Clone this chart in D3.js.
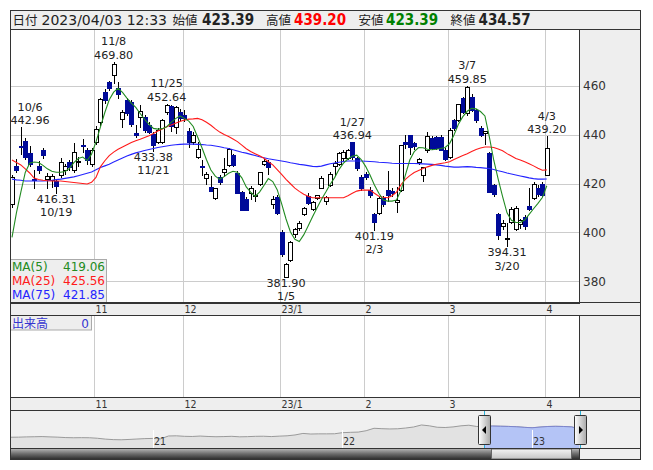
<!DOCTYPE html>
<html><head><meta charset="utf-8">
<script src="https://cdn.jsdelivr.net/npm/d3@7/dist/d3.min.js"></script>
<style>html,body{margin:0;padding:0;background:#fff;}svg{display:block;}</style>
</head><body>
<svg id="chart" width="653" height="470"></svg>
<script>
// ---------------- DATA ----------------
const dates = [
"2022-10-04","2022-10-05","2022-10-06","2022-10-07","2022-10-11","2022-10-12","2022-10-13","2022-10-14","2022-10-17","2022-10-18","2022-10-19","2022-10-20","2022-10-21","2022-10-24","2022-10-25","2022-10-26","2022-10-27","2022-10-28","2022-10-31",
"2022-11-01","2022-11-02","2022-11-04","2022-11-07","2022-11-08","2022-11-09","2022-11-10","2022-11-11","2022-11-14","2022-11-15","2022-11-16","2022-11-17","2022-11-18","2022-11-21","2022-11-22","2022-11-24","2022-11-25","2022-11-28","2022-11-29","2022-11-30",
"2022-12-01","2022-12-02","2022-12-05","2022-12-06","2022-12-07","2022-12-08","2022-12-09","2022-12-12","2022-12-13","2022-12-14","2022-12-15","2022-12-16","2022-12-19","2022-12-20","2022-12-21","2022-12-22","2022-12-23","2022-12-26","2022-12-27","2022-12-28","2022-12-29","2022-12-30",
"2023-01-04","2023-01-05","2023-01-06","2023-01-10","2023-01-11","2023-01-12","2023-01-13","2023-01-16","2023-01-17","2023-01-18","2023-01-19","2023-01-20","2023-01-23","2023-01-24","2023-01-25","2023-01-26","2023-01-27","2023-01-30","2023-01-31",
"2023-02-01","2023-02-02","2023-02-03","2023-02-06","2023-02-07","2023-02-08","2023-02-09","2023-02-10","2023-02-13","2023-02-14","2023-02-15","2023-02-16","2023-02-17","2023-02-20","2023-02-21","2023-02-22","2023-02-24","2023-02-27","2023-02-28",
"2023-03-01","2023-03-02","2023-03-03","2023-03-06","2023-03-07","2023-03-08","2023-03-09","2023-03-10","2023-03-13","2023-03-14","2023-03-15","2023-03-16","2023-03-17","2023-03-20","2023-03-22","2023-03-23","2023-03-24","2023-03-27","2023-03-28","2023-03-29","2023-03-30","2023-03-31",
"2023-04-03"];

const opens = [
411.5,427,435.5,437.5,432.5,421.8,427,433.7,421.8,421.5,421.2,423.5,425.5,428.7,425.5,428.6,435.8,433.7,427.8,
436.8,445.2,457.5,461.5,464.3,459.2,446.2,454,453.4,440.5,447.3,447.3,443.9,440.2,437,437,449.3,451.6,443.2,449.3,
448,441.4,436.8,431,427.2,422.4,418.7,414,422.8,424.8,427.6,431.6,424.2,416.4,413.7,416.2,415,420,427.8,428.7,411.5,414.6,
400.3,382,388.8,399.3,401.7,407.4,415,409.6,414,418.3,413,419.4,427.3,427.8,430.3,430.5,436.8,430.3,422.8,
423.8,417.3,407.4,407.8,414.2,417.3,417,412.3,417.3,436.8,439.8,436.4,428.7,423.5,433.7,438.7,439,439,433.7,
431,445.8,445.9,455,448.7,455.4,450,442.8,440.5,432.3,419.4,407.4,402.8,397.5,404.4,401.4,403.3,406.5,410.8,414.2,418,420,
423.39];
const highs = [
423.5,430,442.96,438.5,435.5,425.5,429,434.5,424.3,424,421.8,430.5,428,429.5,436.5,431,438,434.5,434.7,
443.3,455,458.5,462,469.8,461.4,450,455,454,443.8,451.9,448,445,441,442.5,446.5,452.64,452,451.5,450.5,
450,442.5,441,437,429.5,424.5,423,418.3,423.5,430.5,434.5,432,425,417,414.5,419,417.5,424.8,430,429.5,415,415.5,
401,387.5,396.5,402,404.5,410.5,416,413,415.5,423,415,424.5,429,433,433.5,434.2,436.94,431,423.5,
424.5,418.5,408,414.5,414.8,425,418,418.5,435.7,440,440,437,430.5,426.9,441,439.5,439.5,440,434.5,
442.5,446.5,452.5,455.5,459.85,456.5,450.5,443.5,441.5,433,420,408,405,404,410.5,411,405.5,407,418,420.5,419.5,420.5,
439.2];
const lows = [
410.5,424.5,432,430,427,418,424.3,430.5,418.3,418.5,416.31,422.5,424,425.5,424.5,427,433,428,427,
436,444,453,458,461,455,443.2,448,443.5,439,443,441,440.5,433.38,436.5,436.5,448.5,441.5,440.5,446,
445.5,435,436,430.5,423.5,420,416.9,413.5,420,423,427,427,416,409,409,413.5,413,419.5,427.5,423.8,410,407.5,
390.5,381.9,388.5,398,401,407,411.5,409,413.5,418,411.5,419,423.5,427.5,429.5,430,430,425.5,417.5,
422,414.5,401.19,407.5,411,413,415,408.5,417,434.5,432,434,428,421,433,434,434,433.5,429.5,
430.5,442,445.5,449,448,449.5,445,439.5,436,416.5,415,397.5,401.5,394.31,404,401,402,401.5,409,413.5,415,415,
423.39];
const closes = [
422.8,425.5,435.2,431,428,421.5,425.5,431.6,423.2,423,419,428.8,427,426.7,432.9,429.2,435.5,429.6,433.7,
442.2,454.5,454,459.2,469,456.5,449.3,448.6,444.2,440,449.7,441.8,441.1,435.7,441.8,446,452.2,443.5,451.3,446.6,
446.6,436.8,440,434,426.8,423.8,416.9,418.3,420.7,425.9,434,427.6,416.3,409.2,409.2,418.3,415.2,424.8,429.2,426.9,413.7,407.8,
391.1,387.1,396.2,401.4,403.7,409.9,411.9,412.6,415.3,422.1,414.6,423.8,428.2,432.3,433,433.6,430.9,426.2,418.3,
422.8,415.3,404.4,414,411.5,415.3,416,413.3,435.7,436,435,435.4,430,426.9,439.5,434.4,434.6,433.7,430,
441.8,442.5,452.3,449.3,459.5,450,445.9,440,441.4,416.6,415.6,399,404,397.8,409.6,409.9,405.1,402.8,409.5,420,415.6,415.3,
434.57];

const ma5 = [
398,408,416.5,424.5,428.3,428.8,428.6,427.4,426,425,
424.6,424.6,424.9,426.2,428.5,430.2,430.8,429.4,432,437,
443,449,454.2,457.3,458.9,457.2,454.9,452.8,451.1,448.6,
446.2,444.2,442.5,442.2,442.4,443.2,445,446.5,447.6,446.6,
445.5,443.3,439,434.5,429.7,425.5,423,421.7,422.8,424.2,
425,424.6,422.3,418.6,416.5,414.7,416.5,419.2,422,420.8,
417.5,411.8,405.5,400.2,397.2,396.3,399,402.6,406.4,410,
413.5,416.5,419.7,422.4,425.8,428.3,430,431.1,431.6,429.8,
427,423.5,419.4,416,413.3,412.8,412.8,413.3,417.2,423.4,
429.6,433,434.7,434.6,434,433.8,434,434.3,434.7,436.3,
439.8,444.2,447.3,449.5,450.7,450.5,449.4,447.6,439,429.5,
421.8,414.6,408,405,404.1,404.1,405.1,407.4,409.7,411.9,
414.3,419.06];
const ma25 = [
429.6,428.6,427.6,426,424.3,422.2,421.6,421.3,421.1,421,
421,421,420.8,420.6,420.4,420.2,420,419.8,420.5,422.5,
426.8,429.3,431.4,432.8,434,434.9,435.8,436.7,437.5,438.1,
438.8,439.5,440.4,441.4,442.3,443.2,443.9,444.6,445.3,445.9,
446.3,446.4,446.6,446,445,443.8,442.3,441,440,439.2,
438.2,437.1,435.7,434.2,433.1,432.2,431.3,430.3,428.9,427.6,
425.7,423.7,421.7,419.9,418.1,416.8,415.6,414.8,414.2,414.2,
414.2,414.2,414.2,414.2,414.2,414.2,415,416,416.9,417.3,
417.3,417.3,416,414.8,414.4,414.2,415,416.5,419.5,421.7,
423.2,424.5,425.3,426.1,426.8,427.4,427.9,428.2,428.5,428.9,
429.8,430.6,431.4,432.2,433.1,433.9,434.5,434.9,434.9,434.7,
434.1,433.4,432.2,431.2,430.2,429.6,428.9,428.1,427.2,426.2,
425.4,425.56];
const ma75 = [
421.8,421.5,421.3,421,421,421,421,421,421.1,421.3,
421.6,421.8,422.1,422.4,422.7,423.2,423.7,424.2,424.7,425.6,
426.5,427.2,427.9,428.8,429.6,430.4,431.2,431.9,432.5,433,
433.5,433.9,434.3,434.7,435,435.3,435.6,435.8,436,436.1,
436.1,436.1,436,435.9,435.7,435.6,435.3,435,434.6,434.3,
433.8,433.3,432.8,432.4,431.9,431.4,430.9,430.5,430.1,429.8,
429.5,429.2,428.9,428.5,428.2,427.8,427.6,427.3,427,426.9,
427.1,427.6,428.1,428.4,428.7,429,429.2,429.2,429.2,429.2,
429.1,429,428.9,428.7,428.6,428.5,428.3,428.2,428.2,428.2,
428.2,428.2,428.1,428,427.9,427.8,427.6,427.4,427.1,426.9,
426.7,426.7,426.8,426.9,426.8,426.6,426.5,426.3,426.1,425.7,
425.2,424.8,424.3,423.9,423.5,423.1,422.7,422.3,422,421.8,
421.8,421.85];

const priceTicks = [380, 400, 420, 440, 460];
const monthTickDates = ["2022-11-01","2022-12-01","2023-01-04","2023-02-01","2023-03-01","2023-04-03"];
const monthTickLabels = ["11","12","23/1","2","3","4"];

const annoDates  = ["2022-10-06","2022-10-19","2022-11-08","2022-11-21","2022-11-25","2023-01-05","2023-01-27","2023-02-03","2023-03-07","2023-03-20","2023-04-03"];
const annoLabels = ["10/6","10/19","11/8","11/21","11/25","1/5","1/27","2/3","3/7","3/20","4/3"];
const annoValues = [442.96,416.31,469.80,433.38,452.64,381.90,436.94,401.19,459.85,394.31,439.20];
const annoKinds  = ["high","low","high","low","high","low","high","low","high","low","high"];

const headerDate = "2023/04/03 12:33";
const maNames = ["MA(5)","MA(25)","MA(75)"];
const volumeLabel = "出来高";
const volumeValue = 0;

// navigator (long-range overview) values
const navStart = "2020-04-01", navEnd = "2023-04-03";
const navValues = [
303,304,307,309,311,307,304,299,297,298,
297,291,281,275,273,277,282,287,289,284,
318,320,314,312,317,312,309,311,314,308,
310,314,315,311,316,320,330,348,341,343,
343,344,357,361,364,380,409,404,401,403,
412,424,448,438,421,418,425,438,445,430,
432,435,433,431,427,420,415,423,430,432,
430,425,402];
const navYears = ["2021-01-01","2022-01-01","2023-01-01"];
const navYearLabels = ["21","22","23"];
const navSelection = ["2022-10-01","2023-04-03"];

// ---------------- LAYOUT ----------------
const FONT = "'DejaVu Sans', Verdana, sans-serif";
const FONTC = "'DejaVu Sans Condensed', 'DejaVu Sans', sans-serif";
const JP = "'Noto Sans CJK JP', 'Noto Sans CJK SC', sans-serif";
const B = {l:10.5, r:640.5, top:10.5, head:29.5, main:302.5, s1:315.5, vol:397.5, s2:410.5, nav:448.5, bot:459.5, pr:579.5};
const C = {up:"#ffffff", down:"#000a99", ma5:"#228b22", ma25:"#ff1a1a", ma75:"#2424ff", grid:"#cccccc", panel:"#eeeeee", frame:"#333333", text:"#222222"};

const svg = d3.select("#chart");
const defs = svg.append("defs");
defs.append("clipPath").attr("id","clipMain").append("rect")
  .attr("x",B.l).attr("y",B.head).attr("width",B.pr-B.l).attr("height",B.main-B.head);
defs.append("clipPath").attr("id","clipNav").append("rect")
  .attr("x",B.l).attr("y",B.s2).attr("width",B.pr-B.l).attr("height",B.nav-B.s2);
const gH = defs.append("linearGradient").attr("id","gHandle").attr("x1",0).attr("x2",1).attr("y1",0).attr("y2",0);
gH.append("stop").attr("offset","0%").attr("stop-color","#ffffff");
gH.append("stop").attr("offset","100%").attr("stop-color","#a8a8a8");
const gS = defs.append("linearGradient").attr("id","gScroll").attr("x1",0).attr("x2",0).attr("y1",0).attr("y2",1);
gS.append("stop").attr("offset","0%").attr("stop-color","#b8b8b8");
gS.append("stop").attr("offset","50%").attr("stop-color","#6a6a6a");
gS.append("stop").attr("offset","100%").attr("stop-color","#2a2a2a");
const gT = defs.append("linearGradient").attr("id","gThumb").attr("x1",0).attr("x2",0).attr("y1",0).attr("y2",1);
gT.append("stop").attr("offset","0%").attr("stop-color","#f4f4f4");
gT.append("stop").attr("offset","100%").attr("stop-color","#c4c4c4");

// backgrounds
svg.append("rect").attr("width",653).attr("height",470).attr("fill","#fff");
function band(x0,y0,x1,y1,fill){ svg.append("rect").attr("x",x0).attr("y",y0).attr("width",x1-x0).attr("height",y1-y0).attr("fill",fill); }
band(B.l,B.top,B.r,B.head,C.panel);
band(B.pr,B.head,B.r,B.main,C.panel);
band(B.l,B.main,B.r,B.s1,C.panel);
band(B.pr,B.s1,B.r,B.vol,C.panel);
band(B.l,B.vol,B.r,B.s2,C.panel);
band(B.l,B.s2,B.r,B.nav,"#f0f0f0");
band(B.pr,B.nav,B.r,B.bot,C.panel);

// scales
const x = d3.scalePoint().domain(dates).range([12, 546.8]);
const y = d3.scaleLinear().domain([371.4, 482.9]).range([B.main, B.head]);
const gx = d => Math.round(x(d) - 1.5) + 0.5;

// grid
const grid = svg.append("g").attr("shape-rendering","crispEdges").attr("stroke",C.grid).attr("stroke-width",1);
grid.selectAll("line.h").data(priceTicks).join("line").attr("class","h")
  .attr("x1",B.l).attr("x2",B.pr).attr("y1",v=>Math.round(y(v))+0.5).attr("y2",v=>Math.round(y(v))+0.5);
grid.selectAll("line.v").data(monthTickDates).join("line").attr("class","v")
  .attr("x1",gx).attr("x2",gx).attr("y1",B.head).attr("y2",B.main);
grid.selectAll("line.vv").data(monthTickDates).join("line").attr("class","vv")
  .attr("x1",gx).attr("x2",gx).attr("y1",B.s1).attr("y2",B.vol);

// candles
const rows = dates.map((d,i)=>({d, o:opens[i], h:highs[i], l:lows[i], c:closes[i]}));
const gc = svg.append("g").attr("clip-path","url(#clipMain)").attr("shape-rendering","crispEdges");
gc.selectAll("line.wick").data(rows).join("line").attr("class","wick")
  .attr("x1",r=>Math.round(x(r.d))+0.5).attr("x2",r=>Math.round(x(r.d))+0.5)
  .attr("y1",r=>Math.round(y(r.h))).attr("y2",r=>Math.round(y(r.l))+1)
  .attr("stroke","#000").attr("stroke-width",1);
gc.selectAll("rect.body").data(rows).join("rect").attr("class","body")
  .each(function(r){
    const cx = Math.round(x(r.d));
    const t = Math.round(y(Math.max(r.o,r.c))), b = Math.round(y(Math.min(r.o,r.c)));
    const s = d3.select(this);
    if (r.c >= r.o) {
      s.attr("x",cx-1.5).attr("y",t+0.5).attr("width",4).attr("height",Math.max(1,b-t))
       .attr("fill",C.up).attr("stroke","#000").attr("stroke-width",1);
    } else {
      s.attr("x",cx-2).attr("y",t).attr("width",5).attr("height",Math.max(2,b-t+1))
       .attr("fill",C.down);
    }
  });

// moving averages
const gl = svg.append("g").attr("clip-path","url(#clipMain)");
const line = d3.line().x((v,i)=>x(dates[i])).y(v=>y(v));
[[ma75,C.ma75],[ma25,C.ma25],[ma5,C.ma5]].forEach(([arr,col])=>{
  gl.append("path").attr("d",line(arr)).attr("fill","none").attr("stroke",col).attr("stroke-width",1.1);
});

// high/low annotations
const ga = svg.append("g").attr("font-family",FONT).attr("font-size",11.2).attr("fill",C.text).attr("text-anchor","middle");
annoDates.forEach((d,i)=>{
  const v = annoValues[i], yv = y(v);
  const txt = annoKinds[i]==="high" ? [annoLabels[i], v.toFixed(2)] : [v.toFixed(2), annoLabels[i]];
  const bl = annoKinds[i]==="high" ? [yv-16.5, yv-3] : [yv+10, yv+23.5];
  const els = txt.map((s,k)=>ga.append("text").attr("y",bl[k]).text(s));
  const w = Math.max(...els.map(e=>e.node().getComputedTextLength()));
  let cx = x(d);
  cx = Math.max(B.l + w/2, Math.min(B.pr - w/2, cx));
  els.forEach(e=>e.attr("x",cx));
});

// price axis labels
svg.append("g").attr("font-family",FONT).attr("font-size",12).attr("fill","#333")
  .selectAll("text").data(priceTicks).join("text")
  .attr("x",583).attr("y",v=>y(v)+4.3).text(v=>v);

// MA legend
const lg = svg.append("g");
lg.append("rect").attr("x",10.5).attr("y",259.5).attr("width",96).attr("height",43)
  .attr("fill","#eeeeee").attr("stroke","#aaaaaa");
const maLast = [ma5[ma5.length-1], ma25[ma25.length-1], ma75[ma75.length-1]];
const maCols = [C.ma5, C.ma25, C.ma75];
maNames.forEach((n,k)=>{
  const by = 271 + k*14;
  lg.append("text").attr("x",12).attr("y",by).attr("font-family",FONT).attr("font-size",12).attr("fill",maCols[k]).text(n);
  lg.append("text").attr("x",105).attr("y",by).attr("text-anchor","end").attr("font-family",FONT).attr("font-size",12).attr("fill",maCols[k]).text(maLast[k].toFixed(2));
});

// month labels in the two strips
[[B.main,B.s1],[B.vol,B.s2]].forEach(([t,b])=>{
  svg.append("g").attr("font-family",FONTC).attr("font-size",10.5).attr("fill","#333")
    .selectAll("text").data(monthTickDates).join("text")
    .attr("x",d=>gx(d)+1).attr("y",(t+b)/2+4).text((d,i)=>monthTickLabels[i]);
});

// volume label box
svg.append("rect").attr("x",10.5).attr("y",315.5).attr("width",81).attr("height",14.5).attr("fill","#eeeeee").attr("stroke","#aaaaaa");
svg.append("text").attr("x",12).attr("y",327.5).attr("font-family",JP).attr("font-size",12).attr("fill","#3535d0").text(volumeLabel);
svg.append("text").attr("x",89).attr("y",327.5).attr("text-anchor","end").attr("font-family",FONT).attr("font-size",12).attr("fill","#3535d0").text(volumeValue);

// header
const hd = svg.append("g").attr("fill",C.text);
const hy = 25;
function ht(xp, t, opt){ const e = hd.append("text").attr("x",xp).attr("y",hy).text(t);
  e.attr("font-family",opt.f).attr("font-size",opt.s).attr("font-weight",opt.w||"normal"); if(opt.c) e.attr("fill",opt.c); return e; }
const jp = {f:JP, s:12.5}, num = {f:FONTC, s:15, w:"bold"};
ht(12.5,"日付",jp);
ht(41.5,headerDate,{f:FONT,s:14});
ht(172.5,"始値",jp); ht(202,opens[opens.length-1].toFixed(2),num);
ht(266,"高値",jp);   ht(294,highs[highs.length-1].toFixed(2),Object.assign({},num,{c:"#ff0000"}));
ht(358.5,"安値",jp); ht(386,lows[lows.length-1].toFixed(2),Object.assign({},num,{c:"#008000"}));
ht(450.5,"終値",jp); ht(478.5,closes[closes.length-1].toFixed(2),num);

// navigator
const nx = d3.scaleTime().domain([new Date(navStart), new Date(navEnd)]).range([B.l, B.pr]);
const ni = d3.scaleLinear().domain([0, navValues.length-1]).range([B.l, B.pr]);
const ny = d3.scaleLinear().domain([170, 619]).range([B.nav, B.s2]);
const gn = svg.append("g").attr("clip-path","url(#clipNav)");
const area = d3.area().x((v,i)=>ni(i)).y0(B.nav).y1(v=>ny(v));
const nline = d3.line().x((v,i)=>ni(i)).y(v=>ny(v));
gn.append("path").attr("d",area(navValues)).attr("fill","#e2e2e2");
const sx0 = nx(new Date(navSelection[0])), sx1 = nx(new Date(navSelection[1]));
defs.append("clipPath").attr("id","clipSel").append("rect").attr("x",sx0).attr("y",B.s2).attr("width",sx1-sx0).attr("height",B.nav-B.s2);
gn.append("path").attr("d",nline(navValues)).attr("fill","none").attr("stroke","#9a9a9a").attr("stroke-width",1);
const gsel = svg.append("g").attr("clip-path","url(#clipSel)");
gsel.append("path").attr("d",area(navValues)).attr("fill","#b4c4f6");
gsel.append("path").attr("d",nline(navValues)).attr("fill","none").attr("stroke","#7c84cc").attr("stroke-width",1);
navYears.forEach((d,k)=>{
  const xx = Math.round(nx(new Date(d)))+0.5;
  svg.append("line").attr("x1",xx).attr("x2",xx).attr("y1",430).attr("y2",B.nav).attr("stroke","#ffffff").attr("shape-rendering","crispEdges");
  svg.append("text").attr("x",xx+0.5).attr("y",445).attr("font-family",FONTC).attr("font-size",10.5).attr("fill","#333").text(navYearLabels[k]);
});
[sx0, sx1].forEach(xx=>{
  svg.append("line").attr("x1",Math.round(xx)+0.5).attr("x2",Math.round(xx)+0.5).attr("y1",B.s2).attr("y2",B.nav)
    .attr("stroke","#2ab0d8").attr("shape-rendering","crispEdges");
});
// handles
[[sx0,-1],[sx1,1]].forEach(([xx,dir])=>{
  const hx = Math.round(xx) - 5.5;
  svg.append("rect").attr("x",hx).attr("y",415.5).attr("width",12).attr("height",29).attr("rx",1)
    .attr("fill","url(#gHandle)").attr("stroke","#333");
  const cx = hx + 6, cy = 430;
  const pts = dir<0 ? [[cx-2.5,cy],[cx+1.5,cy-4],[cx+1.5,cy+4]] : [[cx+2.5,cy],[cx-1.5,cy-4],[cx-1.5,cy+4]];
  svg.append("path").attr("d","M"+pts.map(p=>p.join(",")).join("L")+"Z").attr("fill","#000");
});
// scrollbar
svg.append("rect").attr("x",B.l).attr("y",B.nav).attr("width",B.pr-B.l).attr("height",B.bot-B.nav).attr("fill","url(#gScroll)");
svg.append("rect").attr("x",Math.round(sx0)+7.5).attr("y",B.nav+0.5).attr("width",Math.round(sx1)-Math.round(sx0)-16).attr("height",B.bot-B.nav-1)
  .attr("fill","url(#gThumb)").attr("stroke","#666");

// frame lines
const fr = svg.append("g").attr("stroke",C.frame).attr("stroke-width",1).attr("shape-rendering","crispEdges").attr("fill","none");
fr.append("rect").attr("x",B.l).attr("y",B.top).attr("width",B.r-B.l).attr("height",B.bot-B.top);
[B.head,B.main,B.s1,B.vol,B.s2,B.nav].forEach(yy=>fr.append("line").attr("x1",B.l).attr("x2",B.r).attr("y1",yy).attr("y2",yy));
fr.append("line").attr("x1",B.pr).attr("x2",B.pr).attr("y1",B.head).attr("y2",B.main);
fr.append("line").attr("x1",B.pr).attr("x2",B.pr).attr("y1",B.s1).attr("y2",B.vol);
fr.append("line").attr("x1",B.pr).attr("x2",B.pr).attr("y1",B.nav).attr("y2",B.bot);
fr.append("line").attr("x1",B.l).attr("x2",B.pr).attr("y1",B.main+1).attr("y2",B.main+1);
</script>
</body></html>
